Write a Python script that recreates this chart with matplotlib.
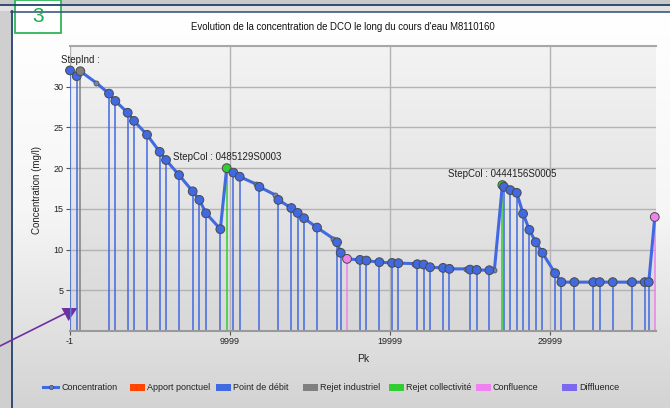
import matplotlib
matplotlib.use('Agg')
import matplotlib.pyplot as plt
import matplotlib.patches as mpatches
from matplotlib.colors import LinearSegmentedColormap
import numpy as np

plt.rcParams['font.family'] = ['Liberation Sans', 'DejaVu Sans']
plt.rcParams['axes.unicode_minus'] = False

# point kilometrique, concentration DCO (mg/l) and type of each node
pk = [-1, 418, 645, 1625, 2437, 2833, 3604, 4000, 4812, 5604,
      6000, 6812, 7666, 8083, 8500, 9312, 9395, 9791, 10208, 10604,
      11624, 11833, 12833, 13020, 13833, 14229, 14624, 15437, 16457, 16687,
      16916, 17312, 18124, 18520, 19332, 20125, 20520, 21519, 21707, 22104,
      22499, 23312, 23707, 24749, 24999, 25417, 26207, 26519, 27019, 27124,
      27519, 27917, 28312, 28707, 29104, 29519, 30312, 30707, 31519, 32543,
      32707, 33104, 33917, 34918, 35124, 35918, 36168, 36543]
conc = [32.0, 31.3, 31.9, 30.5, 29.15, 28.25, 26.8, 25.8, 24.1, 22.0,
        21.0, 19.15, 17.15, 16.1, 14.45, 12.7, 12.5, 20.0, 19.45, 18.95,
        18.05, 17.7, 16.7, 16.1, 15.1, 14.5, 13.85, 12.7, 11.35, 10.9,
        9.6, 8.86, 8.73, 8.65, 8.45, 8.36, 8.33, 8.28, 8.2, 8.16,
        7.83, 7.75, 7.63, 7.63, 7.54, 7.5, 7.46, 7.46, 17.92, 17.7,
        17.3, 16.97, 14.4, 12.42, 10.9, 9.6, 7.1, 6.0, 6.0, 6.0,
        6.0, 6.0, 6.0, 6.0, 6.0, 6.0, 6.0, 14.0]
kind = ['debit', 'debit', 'ind', '', 'debit', 'debit', 'debit', 'debit', 'debit', 'debit',
        'debit', 'debit', 'debit', 'debit', 'debit', '', 'debit', 'col', 'debit', 'debit',
        '', 'debit', '', 'debit', 'debit', 'debit', 'debit', 'debit', '', 'debit',
        'debit', 'conf', 'debit', 'debit', 'debit', 'debit', 'debit', '', 'debit', 'debit',
        'debit', 'debit', 'debit', '', 'debit', 'debit', 'debit', '', 'col', 'debit',
        'debit', 'debit', 'debit', 'debit', 'debit', 'debit', 'debit', 'debit', 'debit', '',
        'debit', 'debit', 'debit', '', 'debit', 'debit', 'debit', 'conf']

step_labels = {2: 'StepInd :', 17: 'StepCol : 0485129S0003', 48: 'StepCol : 0444156S0005'}

x_ticks = [-1, 9999, 19999, 29999]
y_ticks = [5, 10, 15, 20, 25, 30]

legend_names = ['Apport ponctuel', 'Point de débit', 'Rejet industriel',
                'Rejet collectivité', 'Confluence', 'Diffluence']
legend_colors = ['#FF4500', '#4169E1', '#808080', '#32CD32', '#EE82EE', '#7B68EE']
kind_colors = {'debit': '#4169E1', 'ind': '#808080', 'col': '#32CD32', 'conf': '#EE82EE'}

W, H = 670, 408
fig = plt.figure(figsize=(W / 100, H / 100), dpi=100)
fig.patch.set_facecolor('#cfcfcf')

# background panel, drawn in pixel coordinates
bg = fig.add_axes([0, 0, 1, 1])
bg.axis('off')
grad = np.linspace(0, 1, 256).reshape(-1, 1)
panel_cmap = LinearSegmentedColormap.from_list('panel', ['#ffffff', '#f6f6f6', '#d3d3d3'])
plot_cmap = LinearSegmentedColormap.from_list('plotbg', ['#f3f3f3', '#d8d8d8'])
bg.imshow(grad, cmap=panel_cmap, extent=[11, W, H, 12], aspect='auto', interpolation='bilinear')
bg.imshow(grad, cmap=plot_cmap, extent=[70, 656, 331, 46], aspect='auto', interpolation='bilinear')
bg.add_patch(mpatches.Rectangle((0, 0), W, 4, color='#c9c9c9', lw=0))
bg.add_patch(mpatches.Rectangle((0, 5), W, 6, color='#e2e2e2', lw=0))
bg.plot([0, W], [4.5, 4.5], color='#23416b', lw=1.3)
bg.plot([11, W], [11.6, 11.6], color='#3e5a80', lw=1.2)
bg.plot([11.5, 11.5], [11, H], color='#23416b', lw=1.3)

# numbered tag in the corner
bg.add_patch(mpatches.Rectangle((15, 0), 46, 33, facecolor='white', edgecolor='#2fb559', lw=1.3))
bg.text(38, 16, '3', color='#1faa4e', fontsize=15, ha='center', va='center')

# purple pointer
bg.plot([0, 66], [346, 313], color='#7030a0', lw=1.2)
bg.add_patch(mpatches.Polygon([(61.5, 308), (77.5, 308), (68.5, 321)], closed=True,
                              color='#7030a0', lw=0))

# legend row
ly = 387
bg.plot([43, 58], [ly, ly], color='#4169E1', lw=2.2)
bg.plot([50.5], [ly], 'o', ms=3, mfc='#6d7fb0', mec='#444444', mew=0.5)
bg.text(61, ly, 'Concentration', fontsize=6.5, va='center', color='#222222')
for i, (name, col) in enumerate(zip(legend_names, legend_colors)):
    x0 = 130 + i * 86.4
    bg.add_patch(mpatches.Rectangle((x0, ly - 3.5), 15, 7, color=col, lw=0))
    bg.text(x0 + 17, ly, name, fontsize=6.5, va='center', color='#222222')

bg.text(343, 27, "Evolution de la concentration de DCO le long du cours d'eau M8110160",
        fontsize=6.9, ha='center', va='center', color='#111111')
bg.text(363, 359, 'Pk', fontsize=7.5, ha='center', va='center', color='#222222')
bg.text(37, 190, 'Concentration (mg/l)', fontsize=7, ha='center', va='center',
        rotation=90, color='#222222')
bg.set_xlim(0, W)
bg.set_ylim(H, 0)

# main chart
ax = fig.add_axes([70 / W, (H - 331) / H, (656 - 70) / W, (331 - 46) / H])
ax.set_facecolor('none')
ax.set_xlim(-1, 36620)
ax.set_ylim(0, 35)
ax.set_xticks(x_ticks)
ax.set_xticklabels([str(t) for t in x_ticks])
ax.set_yticks(y_ticks)
ax.set_axisbelow(True)
ax.grid(True, color='#b3b3b3', lw=1.0)
ax.axhline(35, color='#a8a8a8', lw=1.5, clip_on=False, zorder=1)
for s in ['top', 'right', 'left']:
    ax.spines[s].set_visible(False)
ax.spines['bottom'].set_color('#9a9a9a')
ax.spines['bottom'].set_linewidth(1.5)
ax.tick_params(length=3, width=0.8, color='#555555', labelsize=6.5, pad=1.5,
               labelcolor='#222222')

for x, y, k in zip(pk, conc, kind):
    if k:
        ax.vlines(x, 0, y, color=kind_colors[k], lw=1.1, zorder=2)

ax.plot(pk, conc, color='#4169E1', lw=2.2, zorder=3, solid_joinstyle='round')

small = [i for i, k in enumerate(kind) if not k]
ax.plot([pk[i] for i in small], [conc[i] for i in small], 'o', ms=3.6,
        mfc='#7584b0', mec='#555555', mew=0.6, zorder=4)
big = [i for i, k in enumerate(kind) if k]
ax.scatter([pk[i] for i in big], [conc[i] for i in big], s=40,
           c=[kind_colors[kind[i]] for i in big], edgecolors='#4a4a4a',
           linewidths=0.7, zorder=5, clip_on=False)

for i, txt in step_labels.items():
    ax.annotate(txt, (pk[i], conc[i]), xytext=(0, 6), textcoords='offset pixels',
                ha='center', va='bottom', fontsize=7, color='#222222', zorder=6)

fig.savefig('out.png', dpi=100)
